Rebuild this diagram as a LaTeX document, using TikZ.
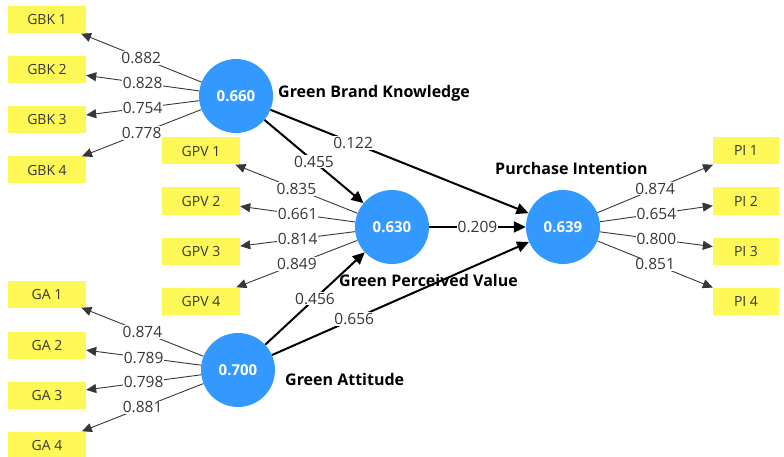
\documentclass[tikz,border=0pt]{standalone}
\usepackage{fontspec}
\setmainfont{Open Sans}
\usetikzlibrary{arrows.meta}
\definecolor{lvblue}{RGB}{51,153,255}
\definecolor{indyellow}{RGB}{253,248,85}
\definecolor{txtgray}{RGB}{55,55,55}
\tikzset{lv/.style={circle, fill=lvblue, draw=none, minimum size=74pt, inner sep=0pt,
           text=white, font=\fontsize{15}{17}\selectfont\bfseries},
         ind/.style={rectangle, fill=indyellow, draw=none, minimum width=78pt,
           minimum height=27pt, inner sep=0pt, text=txtgray, font=\fontsize{14}{16}\selectfont},
         load/.style={draw=txtgray, line width=0.9pt, -{Triangle[length=10pt,width=9pt]}},
         strpath/.style={draw=black, line width=2pt, -{Triangle[length=12pt,width=11pt]}},
         coef/.style={fill=white, inner sep=1pt, text=txtgray, font=\fontsize{15.5}{17}\selectfont},
         lvname/.style={anchor=west, inner sep=0pt, text=black, font=\fontsize{16}{18}\selectfont\bfseries}}

\begin{document}
\begin{tikzpicture}[x=1pt,y=-1pt]
  \useasboundingbox (0,0) rectangle (784,457);

  \node[lv] (GBK) at (236,96) {0.660};
  \node[lv] (GPV) at (392,227) {0.630};
  \node[lv] (PI) at (563,227) {0.639};
  \node[lv] (GA) at (238,370) {0.700};

  \node[lvname] (GBKname) at (278,93) {Green Brand Knowledge};
  \node[lvname] (GPVname) at (339,280) {Green Perceived Value};
  \node[lvname] (PIname) at (495,169) {Purchase Intention};
  \node[lvname] (GAname) at (285,379) {Green Attitude};

  % indicators
  \foreach \i/\y in {1/20,2/70,3/120,4/170}
    \node[ind] (gbk\i) at (47,\y) {GBK \i};
  \foreach \i/\y in {1/151,2/201,3/251,4/301}
    \node[ind] (gpv\i) at (201,\y) {GPV \i};
  \foreach \i/\y in {1/294,2/345,3/395,4/445}
    \node[ind] (ga\i) at (47,\y) {GA \i};
  \foreach \i/\y in {1/151,2/201,3/251,4/301}
    \node[ind, minimum width=66pt] (pi\i) at (746,\y) {PI \i};

  % outer loadings
  \foreach \i/\v in {1/0.882,2/0.828,3/0.754,4/0.778}
    \draw[load] (GBK) -- node[coef] {\v} (gbk\i);
  \foreach \i/\v in {1/0.835,2/0.661,3/0.814,4/0.849}
    \draw[load] (GPV) -- node[coef] {\v} (gpv\i);
  \foreach \i/\v in {1/0.874,2/0.789,3/0.798,4/0.881}
    \draw[load] (GA) -- node[coef] {\v} (ga\i);
  \foreach \i/\v in {1/0.874,2/0.654,3/0.800,4/0.851}
    \draw[load] (PI) -- node[coef] {\v} (pi\i);

  % inner model
  \draw[strpath] (GBK) -- node[coef] {0.455} (GPV);
  \draw[strpath] (GBK) -- node[coef, pos=0.32] {0.122} (PI);
  \draw[strpath] (GPV) -- node[coef] {0.209} (PI);
  \draw[strpath] (GA) -- node[coef] {0.456} (GPV);
  \draw[strpath] (GA) -- node[coef, pos=0.32] {0.656} (PI);
\end{tikzpicture}
\end{document}
